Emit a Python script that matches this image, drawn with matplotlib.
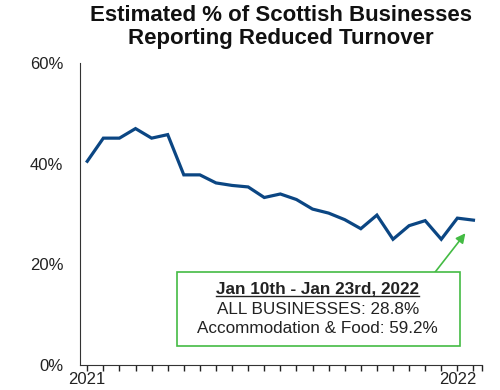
import matplotlib.pyplot as plt
from matplotlib.patches import Rectangle
from matplotlib.ticker import FuncFormatter

plt.rcParams['font.family'] = ['Liberation Sans', 'DejaVu Sans']

# fortnightly survey waves, Jan 2021 - Jan 2022
reduced_turnover = [40.5, 45.1, 45.1, 47.0, 45.1, 45.8, 37.8, 37.8, 36.2, 35.7,
                    35.4, 33.3, 34.0, 32.9, 31.0, 30.2, 28.9, 27.1, 29.8, 25.0,
                    27.7, 28.7, 25.0, 29.2, 28.8]
accommodation_food = 59.2
year_ticks = [0, 23]
year_labels = ['2021', '2022']

line_color = '#0b4683'
green = '#44bb44'
text_color = '#222222'

fig = plt.figure(figsize=(5, 3.9), dpi=100)
ax = fig.add_axes([0.16, 0.064, 0.803, 0.774])

waves = list(range(len(reduced_turnover)))
ax.plot(waves, reduced_turnover, color=line_color, linewidth=2.3,
        solid_joinstyle='miter')

ax.set_ylim(0, 60)
ax.set_yticks([0, 20, 40, 60])
ax.yaxis.set_major_formatter(FuncFormatter(lambda v, p: f"{v:.0f}%"))
ax.tick_params(axis='y', length=0, labelsize=12, pad=12, colors=text_color)

ax.set_xlim(-0.45, 24.5)
ax.set_xticks(year_ticks)
ax.set_xticklabels(year_labels)
ax.set_xticks(waves + [24.5], minor=True)
ax.tick_params(axis='x', which='both', direction='out', length=4, width=1,
               labelsize=12, pad=1, colors=text_color)

for side in ['top', 'right']:
    ax.spines[side].set_visible(False)
for side in ['left', 'bottom']:
    ax.spines[side].set_color('#333333')

fig.text(0.562, 0.93, 'Estimated % of Scottish Businesses\nReporting Reduced Turnover',
         ha='center', va='center', fontsize=16, fontweight='bold',
         linespacing=1.12, color='#111111')

# callout for the latest wave
ax.annotate('', xy=(23.5, 26.2), xytext=(21.6, 18.4),
            arrowprops=dict(arrowstyle='-|>', color=green, lw=1.2,
                            mutation_scale=14, shrinkA=0, shrinkB=0))
ax.add_patch(Rectangle((5.55, 3.85), 23.17 - 5.55, 18.4 - 3.85,
                       facecolor='white', edgecolor=green, lw=1.2, zorder=3))
head = ax.text(14.33, 15.1, 'Jan 10th - Jan 23rd, 2022', ha='center', va='center',
               fontsize=12.3, fontweight='bold', color=text_color, zorder=4)
ax.text(14.33, 11.1, 'ALL BUSINESSES: %.1f%%' % reduced_turnover[-1],
        ha='center', va='center', fontsize=12.3, color=text_color, zorder=4)
ax.text(14.33, 7.35, 'Accommodation & Food: %.1f%%' % accommodation_food,
        ha='center', va='center', fontsize=12.3, color=text_color, zorder=4)

# underline the date heading
fig.canvas.draw()
bb = head.get_window_extent().transformed(ax.transData.inverted())
ax.plot([bb.x0, bb.x1], [bb.y0 + 0.2, bb.y0 + 0.2], color=text_color, lw=1.0, zorder=4)

plt.savefig('out.png', dpi=100)
